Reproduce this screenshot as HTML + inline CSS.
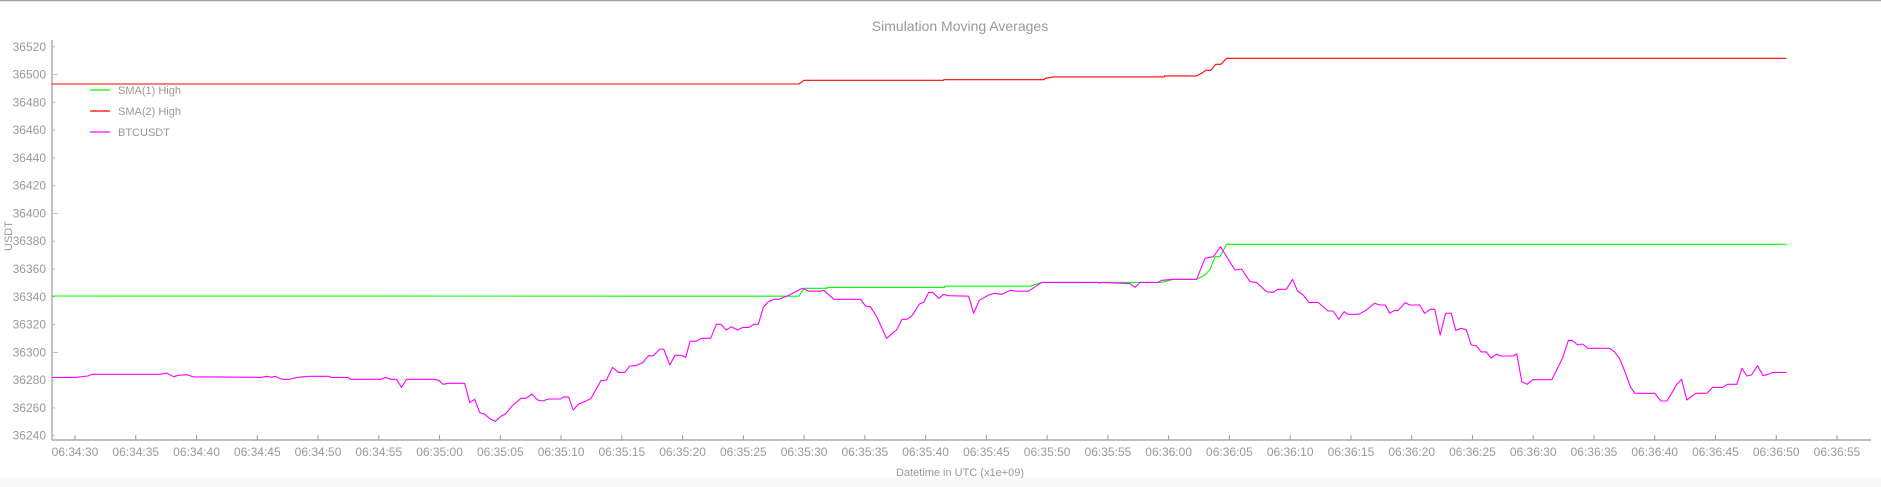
<!DOCTYPE html>
<html><head><meta charset="utf-8"><style>
html,body{margin:0;padding:0;background:#fff;}
#wrap{position:relative;width:1881px;height:487px;overflow:hidden;background:#fff;font-family:"Liberation Sans",sans-serif;}
svg text{font-family:"Liberation Sans",sans-serif;fill:#999;}
</style></head><body>
<div id="wrap">
<svg id="chart" width="1881" height="487" xmlns="http://www.w3.org/2000/svg">
<rect x="0" y="0" width="1881" height="487" fill="#ffffff"/>
<rect x="0" y="478" width="1881" height="9" fill="#f9f9f9"/>
<line x1="0" y1="0.5" x2="1881" y2="0.5" stroke="#a0a0a0" stroke-width="1.5"/>
<text x="960" y="31" font-size="14" text-anchor="middle">Simulation Moving Averages</text>
<text x="12" y="236" font-size="11" text-anchor="middle" transform="rotate(-90 12 236)">USDT</text>
<text x="960" y="476" font-size="11" text-anchor="middle">Datetime in UTC (x1e+09)</text>
<g id="axes"></g>
<g id="series"></g>
<g>
<line x1="90" y1="90" x2="110" y2="90" stroke="#00ff00" stroke-width="1.2"/>
<text x="118" y="94" font-size="11">SMA(1) High</text>
<line x1="90" y1="111" x2="110" y2="111" stroke="#ff0000" stroke-width="1.2"/>
<text x="118" y="115" font-size="11">SMA(2) High</text>
<line x1="90" y1="132" x2="110" y2="132" stroke="#ff00ff" stroke-width="1.2"/>
<text x="118" y="136" font-size="11">BTCUSDT</text>
</g>
</svg>
</div>
<script>
const xTickLabels = ["06:34:30","06:34:35","06:34:40","06:34:45","06:34:50","06:34:55","06:35:00","06:35:05","06:35:10","06:35:15","06:35:20","06:35:25","06:35:30","06:35:35","06:35:40","06:35:45","06:35:50","06:35:55","06:36:00","06:36:05","06:36:10","06:36:15","06:36:20","06:36:25","06:36:30","06:36:35","06:36:40","06:36:45","06:36:50","06:36:55"];
const yTicks = [36240,36260,36280,36300,36320,36340,36360,36380,36400,36420,36440,36460,36480,36500,36520];
const btcT = [-1.89,0,1.07,1.40,6.98,7.56,8.11,8.52,9.20,9.75,11.40,15.28,15.78,16.19,16.46,17.01,17.67,18.24,19.31,20.93,21.04,22.49,22.68,25.14,25.55,25.97,26.46,26.87,27.28,29.56,29.97,30.30,30.71,32.07,32.48,32.89,33.30,33.71,34.21,34.59,35.09,35.42,35.97,36.70,37.12,37.61,38.07,38.48,38.97,39.99,40.18,40.62,41.00,41.44,42.10,42.46,43.28,43.74,44.23,44.73,45.25,45.66,46.15,46.75,47.19,47.57,48.13,48.45,48.95,49.38,49.85,50.26,50.62,51.13,51.54,52.31,52.78,53.14,53.60,54.01,54.50,54.97,55.46,55.87,56.23,56.64,57.05,57.52,57.93,58.75,59.43,59.84,60.39,61.35,61.63,62.45,64.64,65.05,65.46,66.01,66.78,67.60,68.06,68.47,68.88,69.49,69.84,70.25,70.58,71.08,71.49,71.90,73.54,73.95,74.42,75.19,75.65,76.28,76.97,77.51,78.47,79.56,84.22,84.30,84.38,86.41,86.83,87.24,87.65,89.15,89.42,90.39,92.30,92.99,93.67,94.27,94.77,95.45,96.00,96.69,97.23,98.05,98.60,98.96,99.70,100.19,100.60,101.07,101.54,102.30,103.12,103.53,104.00,104.44,104.77,105.64,106.27,106.96,107.37,107.83,108.19,108.60,108.87,109.47,109.83,110.65,111.06,111.53,111.89,112.35,112.79,113.26,113.62,114.08,114.49,114.90,115.31,115.72,116.13,116.54,116.95,117.36,118.32,118.65,119.06,119.50,119.97,121.53,122.43,122.90,123.25,123.66,124.07,124.49,126.27,126.68,127.09,127.50,127.99,128.37,130.01,130.51,131.00,131.47,131.82,132.21,132.64,133.38,134.29,134.76,135.58,135.99,136.76,137.17,137.58,137.96,138.46,138.92,139.42,139.69,140.84];
const btcV = [36282.0,36282.0,36283.0,36284.2,36284.2,36285.1,36282.5,36283.5,36283.9,36282.3,36282.3,36282.0,36282.8,36282.0,36282.8,36280.6,36280.6,36282.0,36282.8,36282.8,36282.0,36282.0,36280.6,36280.6,36282.0,36280.6,36280.6,36274.8,36280.6,36280.6,36279.6,36277.0,36277.7,36277.7,36263.8,36266.2,36256.6,36255.4,36251.8,36250.4,36254.2,36255.6,36261.4,36266.9,36266.9,36270.0,36265.7,36265.0,36266.4,36266.4,36267.9,36267.9,36258.5,36262.8,36265.2,36266.9,36279.6,36280.1,36289.2,36285.6,36285.6,36290.2,36290.4,36292.8,36297.6,36297.4,36302.4,36302.2,36290.9,36297.9,36297.9,36296.4,36308.0,36308.0,36310.1,36310.1,36320.2,36320.2,36316.1,36318.5,36316.1,36318.0,36318.0,36320.2,36320.2,36332.4,36336.5,36338.2,36338.2,36341.1,36344.2,36346.1,36344.0,36344.0,36344.7,36338.2,36338.2,36333.4,36332.9,36325.2,36310.1,36316.1,36323.8,36323.8,36326.4,36334.8,36336.0,36343.2,36343.2,36338.9,36341.8,36340.8,36340.4,36328.1,36337.5,36341.3,36342.5,36341.8,36344.7,36344.0,36344.0,36350.4,36350.4,36349.7,36350.4,36349.7,36349.4,36346.8,36350.4,36350.4,36351.9,36352.6,36352.6,36367.7,36368.9,36376.1,36368.9,36359.3,36360.0,36350.9,36350.4,36343.7,36343.2,36345.4,36345.4,36352.6,36344.2,36341.3,36336.0,36336.0,36329.8,36329.8,36323.8,36329.3,36327.4,36327.4,36330.5,36335.3,36334.1,36334.1,36328.1,36330.3,36330.1,36335.8,36334.1,36334.1,36328.1,36331.0,36331.0,36312.5,36328.1,36328.1,36315.9,36317.3,36316.3,36305.3,36304.8,36300.3,36300.3,36295.9,36298.6,36297.4,36297.4,36298.8,36278.9,36277.0,36280.3,36280.3,36296.2,36308.7,36308.4,36305.3,36306.0,36302.9,36302.9,36300.5,36295.7,36287.3,36275.3,36270.5,36270.5,36265.0,36265.0,36271.7,36277.0,36280.6,36265.7,36270.5,36270.5,36274.8,36274.8,36277.0,36277.0,36288.5,36283.0,36283.7,36290.4,36283.2,36284.4,36285.6,36285.6];
const sma1T = [-1.89,59.57,59.98,61.90,61.91,71.57,71.58,78.61,79.56,89.40,90.39,92.30,92.99,93.40,93.81,94.22,94.77,140.84];
const sma1V = [36340.6,36340.4,36346.1,36346.1,36346.8,36346.8,36347.6,36347.6,36350.4,36350.4,36352.6,36352.6,36355.7,36359.8,36368.9,36368.9,36377.8,36377.8];
const sma2T = [-1.89,59.57,59.98,71.49,71.50,79.76,79.84,80.52,89.64,89.65,92.30,92.71,93.07,93.48,93.86,94.30,94.77,140.84];
const sma2V = [36493.2,36493.2,36495.9,36495.9,36496.3,36496.3,36497.3,36498.3,36498.3,36499.0,36499.0,36500.9,36503.1,36503.1,36507.4,36507.4,36511.7,36511.7];

const NS = "http://www.w3.org/2000/svg";
const X0 = 75, PXS = (1837-75)/145;
function xScale(t){ return X0 + t*PXS; }
function yScale(v){ return 435.7 - (v-36240)*1.389; }
function mk(tag, attrs, parent){ const e=document.createElementNS(NS,tag); for(const k in attrs) e.setAttribute(k,attrs[k]); parent.appendChild(e); return e; }

const axes = document.getElementById('axes');
let yAxis = mk('line',{x1:52,y1:40,x2:52,y2:440,stroke:'#999','stroke-width':1.2},axes);


let xAxis = mk('line',{x1:52,y1:440,x2:1871,y2:440,stroke:'#999','stroke-width':1.2},axes);


yTicks.forEach(v=>{
  const y=yScale(v);
  const major = (v%100===0);
  let tk = mk('line',{x1:52,y1:y,x2:major?58:55,y2:y,stroke:'#bbb','stroke-width':1},axes);
  
  
  let tl = mk('text',{x:46,y:y+4,'font-size':12,'text-anchor':'end'},axes);
  tl.textContent = v;
  
  
});
xTickLabels.forEach((lab,i)=>{
  const x=xScale(i*5);
  let tk = mk('line',{x1:x,y1:435,x2:x,y2:440,stroke:'#999','stroke-width':1},axes);
  
  
  let tl = mk('text',{x:x,y:456,'font-size':12,'text-anchor':'middle'},axes);
  tl.textContent = lab;
  
  
});
const series = document.getElementById('series');
function line(T,V,color,name){
  const pts = T.map((t,i)=>xScale(t).toFixed(1)+','+yScale(V[i]).toFixed(1)).join(' ');
  const p = mk('polyline',{points:pts,fill:'none',stroke:color,'stroke-width':1.1,'stroke-linejoin':'round'},series);
  
  
}
line(sma2T,sma2V,'#ff0000','sma2-high-line');
line(sma1T,sma1V,'#00ff00','sma1-high-line');
line(btcT,btcV,'#ff00ff','btcusdt-line');
</script>
</body></html>
